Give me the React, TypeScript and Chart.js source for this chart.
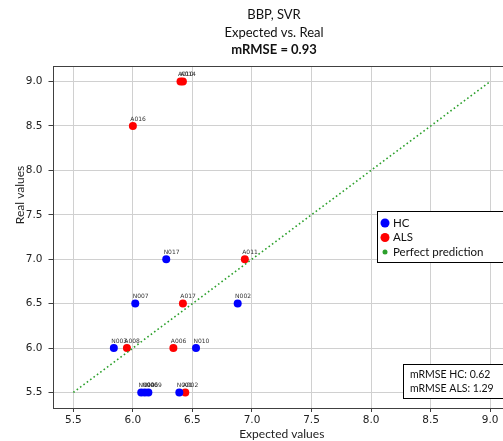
import React, { useEffect, useRef } from "react";
import { Chart, registerables } from "chart.js";

Chart.register(...registerables);

// ---- Data ----
const titleLines = ["BBP, SVR", "Expected vs. Real"];
const titleBold = "mRMSE = 0.93";
const xAxisLabel = "Expected values";
const yAxisLabel = "Real values";

const hcLabels = ["N017", "N007", "N002", "N003", "N010", "N004", "N006", "N009", "N001"];
const hcExpected = [6.28, 6.02, 6.88, 5.84, 6.53, 6.07, 6.10, 6.13, 6.39];
const hcReal = [7.0, 6.5, 6.5, 6.0, 6.0, 5.5, 5.5, 5.5, 5.5];

const alsLabels = ["A010", "A014", "A016", "A011", "A017", "A008", "A006", "A002"];
const alsExpected = [6.40, 6.42, 6.0, 6.94, 6.42, 5.95, 6.34, 6.44];
const alsReal = [9.0, 9.0, 8.5, 7.0, 6.5, 6.0, 6.0, 5.5];

const perfectX = [5.5, 9.0];
const perfectY = [5.5, 9.0];

const axisMin = 5.325;
const axisMax = 9.175;
const tickStep = 0.5;

const legendItems = ["HC", "ALS", "Perfect prediction"];
const statsLines = ["mRMSE HC: 0.62", "mRMSE ALS: 1.29"];

const BLUE = "#0000ff";
const RED = "#ff0000";
const GREEN = "#2ca02c";
const UI_FONT = "Lato, 'Open Sans', sans-serif";
const TICK_FONT = "'DejaVu Sans', sans-serif";

export default function App() {
  const canvasRef = useRef<HTMLCanvasElement | null>(null);

  useEffect(() => {
    const canvas = canvasRef.current;
    if (!canvas) return;

    const toPts = (xs: number[], ys: number[]) => xs.map((x, i) => ({ x, y: ys[i] }));

    const overlay = {
      id: "overlay",
      beforeDatasetsDraw(chart: any) {
        const { ctx, chartArea: a } = chart;
        ctx.save();
        ctx.strokeStyle = "#404040";
        ctx.lineWidth = 1;
        ctx.strokeRect(Math.round(a.left) + 0.5, Math.round(a.top) + 0.5, Math.round(a.right - a.left), Math.round(a.bottom - a.top));
        ctx.restore();
      },
      afterDatasetsDraw(chart: any) {
        const { ctx } = chart;
        ctx.save();
        ctx.font = `6px ${TICK_FONT}`;
        ctx.fillStyle = "#333";
        ctx.textBaseline = "middle";
        ctx.textAlign = "left";
        const lbls = [hcLabels, alsLabels];
        [0, 1].forEach((di) => {
          const meta = chart.getDatasetMeta(di);
          meta.data.forEach((pt: any, i: number) => {
            ctx.fillText(lbls[di][i], pt.x - 2.6, pt.y - 7);
          });
        });
        ctx.restore();
      },
      afterDraw(chart: any) {
        const { ctx, chartArea: a } = chart;
        ctx.save();
        // titles
        ctx.fillStyle = "#111";
        ctx.textAlign = "center";
        ctx.textBaseline = "middle";
        ctx.font = `13px ${UI_FONT}`;
        ctx.fillText(titleLines[0], 274, 15);
        ctx.fillText(titleLines[1], 274, 33);
        ctx.font = `bold 13px ${UI_FONT}`;
        ctx.fillText(titleBold, 274, 50);

        // axis labels
        ctx.font = `12px ${UI_FONT}`;
        ctx.fillStyle = "#222";
        ctx.fillText(xAxisLabel, (a.left + a.right) / 2, 434);
        ctx.save();
        ctx.translate(20.5, 195);
        ctx.rotate(-Math.PI / 2);
        ctx.fillText(yAxisLabel, 0, 0);
        ctx.restore();

        // legend box
        ctx.fillStyle = "#fff";
        ctx.fillRect(377, 211, 140, 51);
        ctx.strokeStyle = "#000";
        ctx.lineWidth = 1;
        ctx.strokeRect(377.5, 211.5, 140, 51);
        const colors = [BLUE, RED, GREEN];
        const radii = [4.5, 4.5, 2.5];
        const ys = [223, 237.5, 252];
        ctx.textAlign = "left";
        ctx.font = `11.5px ${UI_FONT}`;
        legendItems.forEach((t, i) => {
          ctx.fillStyle = colors[i];
          ctx.beginPath();
          ctx.arc(385, ys[i], radii[i], 0, Math.PI * 2);
          ctx.fill();
          ctx.fillStyle = "#111";
          ctx.fillText(t, 393, ys[i]);
        });

        // stats box
        ctx.fillStyle = "#fff";
        ctx.fillRect(403, 364, 120, 34);
        ctx.strokeStyle = "#000";
        ctx.strokeRect(403.5, 364.5, 120, 34);
        ctx.fillStyle = "#111";
        ctx.font = `10.5px ${UI_FONT}`;
        ctx.fillText(statsLines[0], 410, 375);
        ctx.fillText(statsLines[1], 410, 389);
        ctx.restore();
      },
    };

    const chart = new Chart(canvas, {
      type: "scatter",
      data: {
        datasets: [
          {
            label: legendItems[0],
            data: toPts(hcExpected, hcReal),
            backgroundColor: BLUE,
            borderColor: BLUE,
            pointRadius: 4,
            pointBorderWidth: 0,
            order: 1,
          },
          {
            label: legendItems[1],
            data: toPts(alsExpected, alsReal),
            backgroundColor: RED,
            borderColor: RED,
            pointRadius: 4,
            pointBorderWidth: 0,
            order: 1,
          },
          {
            type: "line",
            label: legendItems[2],
            data: toPts(perfectX, perfectY),
            borderColor: GREEN,
            borderWidth: 1.6,
            borderDash: [1.6, 2.6],
            pointRadius: 0,
            fill: false,
            order: 0,
          } as any,
        ],
      },
      options: {
        responsive: false,
        animation: false,
        devicePixelRatio: 1,
        layout: { padding: { top: 66, right: 9, left: 0, bottom: 0 } },
        plugins: {
          legend: { display: false },
          tooltip: { enabled: false },
          title: { display: false },
        },
        scales: {
          x: {
            type: "linear",
            min: axisMin,
            max: axisMax,
            afterFit: (s: any) => {
              s.height = 33;
            },
            ticks: {
              stepSize: tickStep,
              includeBounds: false,
              color: "#222",
              font: { family: TICK_FONT, size: 10.5 },
              padding: 2,
              maxRotation: 0,
              callback: (v: any) => Number(v).toFixed(1),
            },
            grid: {
              color: "#d0d0d0",
              lineWidth: 1,
              tickColor: "#404040",
              tickLength: 4,
            },
            border: { display: false },
          },
          y: {
            type: "linear",
            min: axisMin,
            max: axisMax,
            afterFit: (s: any) => {
              s.width = 52.5;
            },
            ticks: {
              stepSize: tickStep,
              includeBounds: false,
              color: "#222",
              font: { family: TICK_FONT, size: 10.5 },
              padding: 6,
              callback: (v: any) => Number(v).toFixed(1),
            },
            grid: {
              color: "#d0d0d0",
              lineWidth: 1,
              tickColor: "#404040",
              tickLength: 4,
            },
            border: { display: false },
          },
        },
      },
      plugins: [overlay],
    } as any);

    return () => chart.destroy();
  }, []);

  return (
    <div
      style={{
        position: "fixed",
        left: 0,
        top: 0,
        width: 503,
        height: 441,
        overflow: "hidden",
        background: "#fff",
      }}
    >
      <canvas ref={canvasRef} width={520} height={441} style={{ display: "block" }} />
    </div>
  );
}
